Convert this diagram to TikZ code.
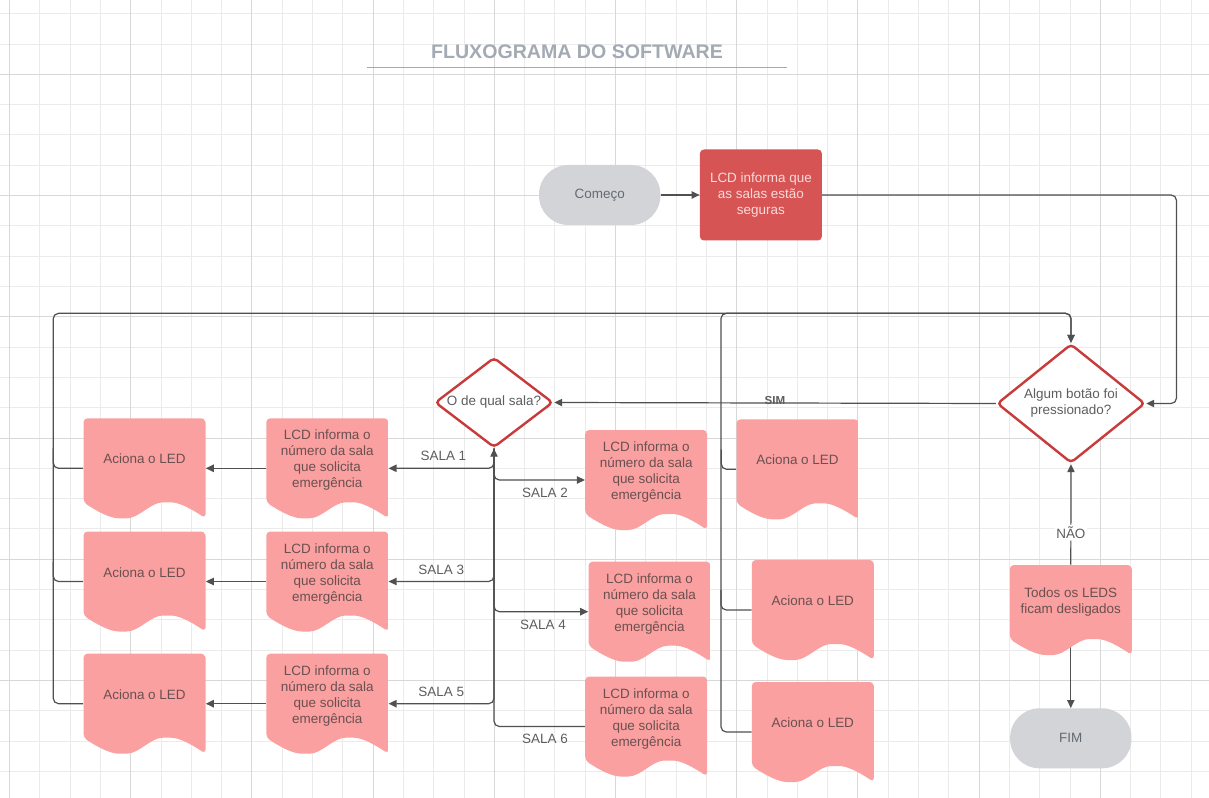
\documentclass[tikz,border=0pt]{standalone}
\usepackage{fontspec}
\setmainfont{Liberation Sans}
\usetikzlibrary{positioning,shapes.geometric,arrows.meta}
\definecolor{docpink}{HTML}{FAA0A0}
\definecolor{doctext}{HTML}{6B5050}
\definecolor{lcdred}{HTML}{D65454}
\definecolor{lcdtext}{HTML}{F9DADA}
\definecolor{diamondred}{HTML}{C93A3A}
\definecolor{termgray}{HTML}{D3D4D7}
\definecolor{termtext}{HTML}{636A73}
\definecolor{linegray}{HTML}{505050}
\definecolor{labelgray}{HTML}{5E5E5E}
\definecolor{titlegray}{HTML}{A4AAB3}
\definecolor{gridminor}{HTML}{EBEBEB}
\definecolor{gridmajor}{HTML}{D8D8D8}
\pgfdeclarelayer{background}
\pgfsetlayers{background,main}
\tikzset{doc node/.style={rectangle,rounded corners=3pt,minimum width=91.5pt,minimum height=75pt,inner sep=0pt,align=center,text=doctext,text depth=14pt,
  path picture={\fill[docpink] (path picture bounding box.north west) -- (path picture bounding box.north east) -- (path picture bounding box.south east)
    .. controls +(-9pt,6pt) and +(10pt,0pt) .. ++(-29pt,12pt)
    .. controls +(-12pt,0pt) and +(12pt,0pt) .. ++(-33pt,-12pt)
    .. controls +(-10pt,0pt) and +(9pt,-6pt) .. ++(-29.5pt,12pt) -- cycle;}}}
\tikzset{start node/.style={rectangle,rounded corners=22pt,fill=termgray,text=termtext,minimum width=91pt,minimum height=45pt,inner sep=0pt}}
\tikzset{process node/.style={rectangle,rounded corners=3pt,fill=lcdred,text=lcdtext,minimum width=91.5pt,minimum height=68.25pt,inner sep=0pt,align=center}}
\tikzset{decision node/.style={diamond,draw=diamondred,line width=1.8pt,fill=white,rounded corners=3pt,inner sep=0pt,align=center,text=labelgray}}
\tikzset{sala label/.style={text=labelgray,inner sep=3pt}}
\tikzset{flow/.style={draw=linegray,line width=0.9pt,rounded corners=4pt}}

\begin{document}
\begin{tikzpicture}[x=0.75pt,y=-0.75pt,font=\fontsize{10.1}{12}\selectfont,>={Triangle[length=6pt,width=5.5pt]}]
    \useasboundingbox (0,0) rectangle (1209,798);

    \node[text=titlegray,font=\bfseries\fontsize{14.7}{16}\selectfont] (titulo) at (577,51.5) {FLUXOGRAMA DO SOFTWARE};
    \draw[titlegray,line width=1pt] (367,67.3) -- (787,67.3);

    \node[start node] (comeco) at (599.7,195) {Começo};
    \node[process node] (lcdtop) [right=29.25pt of comeco] {LCD informa que\\as salas estão\\seguras};
    \node[decision node,aspect=1.25,minimum width=111pt,minimum height=89.25pt] (botao) at (1071,403.5) {Algum botão foi\\pressionado?};
    \node[decision node,aspect=1.3,minimum width=88.5pt,minimum height=67.5pt] (qual) at (494,402.5) {O de qual sala?};
    \coordinate[above=22.1pt of botao.north] (toploop);

    \node[doc node] (led1) at (144.5,468.3) {Aciona o LED};
    \node[doc node] (lcd1) [right=45.2pt of led1] {LCD informa o\\número da sala\\que solicita\\emergência};
    \node[doc node] (led3) [below=9.5pt of led1] {Aciona o LED};
    \node[doc node] (lcd3) [right=45.2pt of led3] {LCD informa o\\número da sala\\que solicita\\emergência};
    \node[doc node] (led5) [below=16.25pt of led3] {Aciona o LED};
    \node[doc node] (lcd5) [right=45.2pt of led5] {LCD informa o\\número da sala\\que solicita\\emergência};

    \node[doc node] (lcd2) at (646.2,480) {LCD informa o\\número da sala\\que solicita\\emergência};
    \node[doc node] (lcd4) at (649.5,611.7) {LCD informa o\\número da sala\\que solicita\\emergência};
    \node[doc node] (lcd6) at (646.2,726.5) {LCD informa o\\número da sala\\que solicita\\emergência};

    \node[doc node] (led2) at (797.5,469.3) {Aciona o LED};
    \node[doc node] (led4) at (812.8,610) {Aciona o LED};
    \node[doc node] (led6) at (812.8,732) {Aciona o LED};

    \node[doc node,minimum height=67.5pt] (todos) at (1070.8,610) {Todos os LEDS\\ficam desligados};
    \node[start node] (fim) at (1070.8,738.3) {FIM};

    \begin{pgfonlayer}{background}
    \fill[white] (0,0) rectangle (1209,798);
    \foreach \k in {0,...,39} \draw[gridminor,line width=0.6pt] ({9.4+30.3*\k},0) -- ({9.4+30.3*\k},798);
    \foreach \k in {0,...,25} \draw[gridminor,line width=0.6pt] (0,{13.7+30.3*\k}) -- (1209,{13.7+30.3*\k});
    \foreach \k in {0,4,...,36} \draw[gridmajor,line width=0.6pt] ({9.4+30.3*\k},0) -- ({9.4+30.3*\k},798);
    \foreach \k in {2,6,...,22} \draw[gridmajor,line width=0.6pt] (0,{13.7+30.3*\k}) -- (1209,{13.7+30.3*\k});

    \draw[flow,->] (comeco) -- (lcdtop);
    \draw[flow,->] (lcdtop.east) -- ++(354.3,0) |- (botao.east);
    \draw[flow,->] (botao.west) -- node[text=labelgray,font=\bfseries\fontsize{8.7}{10}\selectfont,yshift=1.5pt] {SIM} (qual.east);

    \draw[flow,->] (qual.south) |- node[sala label,pos=0.74,above=2pt] {SALA 1} (lcd1.east);
    \draw[flow,->] (qual.south) |- node[sala label,pos=0.78,below=2.5pt] {SALA 2} (lcd2.west);
    \draw[flow,->] (qual.south) |- node[sala label,pos=0.75,above=2pt] {SALA 3} (lcd3.east);
    \draw[flow,->] (qual.south) |- node[sala label,pos=0.76,below=2.5pt] {SALA 4} (lcd4.west);
    \draw[flow,->] (qual.south) |- node[sala label,pos=0.75,above=2pt] {SALA 5} (lcd5.east);
    \draw[flow,<-] (qual.south) |- node[sala label,pos=0.78,below=2.5pt] {SALA 6} (lcd6.west);

    \draw[flow,->] (lcd1) -- (led1);
    \draw[flow,->] (lcd3) -- (led3);
    \draw[flow,->] (lcd5) -- (led5);

    \draw[flow,->] (led5.west) -- ++(-30,0) |- (toploop) -- (botao.north);
    \draw[flow] (led1.west) -- ++(-30,0) -- ++(0,-20);
    \draw[flow] (led3.west) -- ++(-30,0) -- ++(0,-20);
    \draw[flow,->] (led6.west) -- ++(-30.6,0) |- (toploop) -- (botao.north);
    \draw[flow] (led2.west) -- ++(-15,0) -- ++(0,-20);
    \draw[flow] (led4.west) -- ++(-30.6,0) -- ++(0,-20);

    \draw[flow,->] (todos.north) -- node[pos=0.32,fill=white,text=labelgray,inner sep=1.5pt] {NÃO} (botao.south);
    \draw[flow,->] (todos.center) -- (fim.north);
    \end{pgfonlayer}
\end{tikzpicture}
\end{document}
